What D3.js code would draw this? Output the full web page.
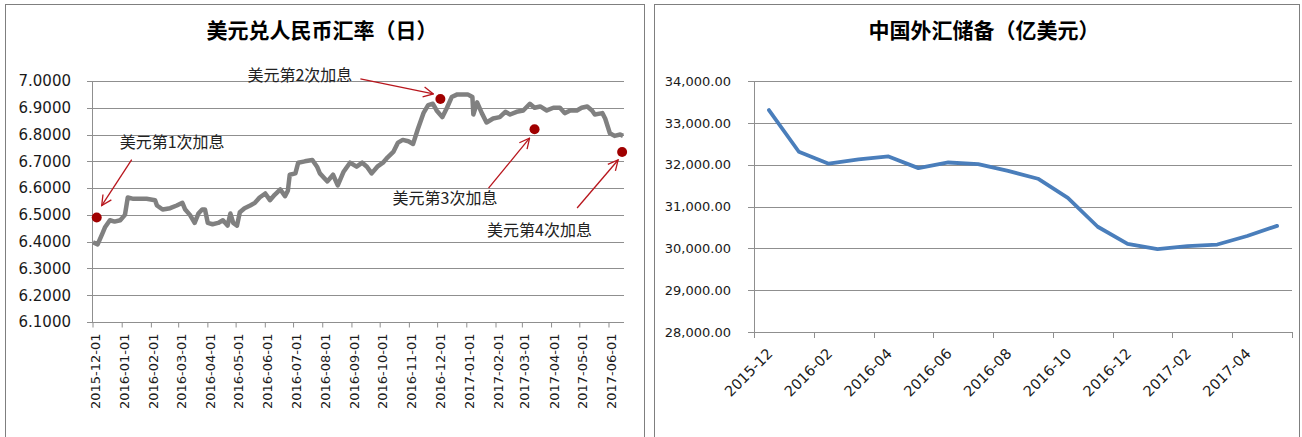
<!DOCTYPE html>
<html>
<head>
<meta charset="utf-8">
<script src="https://cdn.jsdelivr.net/npm/d3@7"></script>
<style>
	body { margin: 0; background: #fff; }
	svg text { font-family: "DejaVu Sans", Verdana, sans-serif; }
</style>
</head>
<body>
<svg id="chart" width="1302" height="437"></svg>
<script>
// 美元兑人民币汇率 (日)
var fxDates = ["2015-12-02","2015-12-07","2015-12-12","2015-12-15","2015-12-20","2015-12-25","2015-12-31",
	"2016-01-05","2016-01-08","2016-01-14","2016-01-28","2016-02-06","2016-02-08","2016-02-14","2016-02-22","2016-02-29",
	"2016-03-06","2016-03-09","2016-03-14","2016-03-19","2016-03-23","2016-03-27","2016-03-30",
	"2016-04-02","2016-04-07","2016-04-13","2016-04-18","2016-04-23","2016-04-26","2016-04-29",
	"2016-05-03","2016-05-06","2016-05-11","2016-05-17","2016-05-22","2016-05-27",
	"2016-06-02","2016-06-07","2016-06-12","2016-06-18","2016-06-23","2016-06-26","2016-06-28",
	"2016-07-04","2016-07-07","2016-07-14","2016-07-22","2016-07-27","2016-07-30",
	"2016-08-07","2016-08-13","2016-08-18","2016-08-24","2016-08-31",
	"2016-09-07","2016-09-13","2016-09-18","2016-09-23","2016-09-29",
	"2016-10-05","2016-10-10","2016-10-16","2016-10-21","2016-10-26",
	"2016-11-01","2016-11-06","2016-11-11","2016-11-17","2016-11-22","2016-11-27",
	"2016-12-01","2016-12-07","2016-12-12","2016-12-17","2016-12-23","2016-12-29",
	"2017-01-03","2017-01-08","2017-01-09","2017-01-13","2017-01-18","2017-01-23","2017-01-30",
	"2017-02-06","2017-02-12","2017-02-17","2017-02-24",
	"2017-03-03","2017-03-10","2017-03-15","2017-03-21","2017-03-28",
	"2017-04-04","2017-04-11","2017-04-16","2017-04-22","2017-04-29",
	"2017-05-04","2017-05-10","2017-05-15","2017-05-18","2017-05-26","2017-05-29",
	"2017-06-03","2017-06-08","2017-06-14","2017-06-17"];
var fxRates = [6.398,6.39,6.43,6.455,6.48,6.475,6.48,
	6.50,6.565,6.56,6.56,6.555,6.535,6.52,6.525,6.535,
	6.545,6.52,6.50,6.47,6.505,6.52,6.52,
	6.47,6.465,6.47,6.48,6.46,6.505,6.47,
	6.46,6.51,6.525,6.535,6.545,6.565,
	6.58,6.555,6.575,6.595,6.57,6.59,6.65,
	6.655,6.695,6.70,6.705,6.68,6.655,
	6.625,6.65,6.61,6.66,6.695,
	6.68,6.695,6.68,6.655,6.68,
	6.695,6.715,6.735,6.77,6.78,
	6.775,6.765,6.82,6.88,6.91,6.915,
	6.89,6.865,6.90,6.94,6.95,6.95,
	6.95,6.94,6.875,6.92,6.88,6.845,6.86,
	6.865,6.885,6.875,6.885,
	6.89,6.915,6.90,6.905,6.89,
	6.90,6.90,6.88,6.89,6.89,
	6.90,6.905,6.89,6.875,6.88,6.86,
	6.805,6.795,6.80,6.795];
var fxTicks = [6.1,6.2,6.3,6.4,6.5,6.6,6.7,6.8,6.9,7.0];

var hikeDates = ["2015-12-06","2016-12-05","2017-03-15","2017-06-16"];
var hikeRates = [6.49,6.933,6.82,6.735];
var hikeLabels = ["美元第1次加息","美元第2次加息","美元第3次加息","美元第4次加息"];

// 中国外汇储备 (亿美元)
var reserveMonths = ["2015-12","2016-01","2016-02","2016-03","2016-04","2016-05","2016-06","2016-07","2016-08",
	"2016-09","2016-10","2016-11","2016-12","2017-01","2017-02","2017-03","2017-04","2017-05"];
var reserveValues = [33304,32309,32023,32126,32197,31917,32052,32011,31852,
	31664,31207,30516,30105,29982,30051,30091,30295,30536];
var reserveTicks = [28000,29000,30000,31000,32000,33000,34000];
var reserveLabelMonths = ["2015-12","2016-02","2016-04","2016-06","2016-08","2016-10","2016-12","2017-02","2017-04"];

var svg = d3.select("#chart");
var parse = d3.timeParse("%Y-%m-%d");
var gridColor = "#8f8f8f";

// panels
svg.append("rect").attr("x", 5.5).attr("y", 4.5).attr("width", 639).attr("height", 460)
	.attr("fill", "#fff").attr("stroke", "#7f7f7f");
svg.append("rect").attr("x", 654.5).attr("y", 4.5).attr("width", 645).attr("height", 460)
	.attr("fill", "#fff").attr("stroke", "#7f7f7f");

//==========================
// LEFT : exchange rate
//==========================
var L = {left: 92, right: 624, top: 81, bottom: 322};

var xL = d3.scaleTime()
	.domain([parse("2015-12-01"), parse("2017-06-18")])
	.range([L.left, L.right]);
var yL = d3.scaleLinear().domain([6.1, 7.0]).range([L.bottom, L.top]);

svg.append("text")
	.attr("x", 322).attr("y", 38)
	.attr("text-anchor", "middle")
	.style("font-family", "'Noto Sans CJK SC', sans-serif")
	.style("font-size", "21px").style("font-weight", "bold")
	.text("美元兑人民币汇率（日）");

var gl = svg.append("g");
gl.selectAll("line.grid").data(fxTicks).enter().append("line")
	.attr("x1", L.left - 5).attr("x2", L.right)
	.attr("y1", function(d){ return Math.round(yL(d)) + 0.5; })
	.attr("y2", function(d){ return Math.round(yL(d)) + 0.5; })
	.attr("stroke", gridColor);
gl.append("line")
	.attr("x1", L.left + 0.5).attr("x2", L.left + 0.5)
	.attr("y1", L.top).attr("y2", L.bottom + 1)
	.attr("stroke", gridColor);

var yAxisL = svg.append("g")
	.attr("transform", "translate(" + L.left + ",0)")
	.call(d3.axisLeft(yL).tickValues(fxTicks).tickSize(0).tickPadding(21).tickFormat(d3.format(".4f")));
yAxisL.select(".domain").remove();
yAxisL.selectAll("text").style("font-size", "15px").attr("fill", "#1a1a1a")
	.style("font-family", "'DejaVu Sans', sans-serif");

var months = d3.timeMonth.range(parse("2015-12-01"), parse("2017-06-02"));
var xAxisL = svg.append("g")
	.attr("transform", "translate(0," + (L.bottom + 0.5) + ")")
	.call(d3.axisBottom(xL).tickValues(months).tickSize(5).tickSizeOuter(0).tickFormat(d3.timeFormat("%Y-%m-%d")));
xAxisL.select(".domain").remove();
xAxisL.selectAll("line").attr("stroke", gridColor)
	.attr("transform", "translate(0.5,0)");
xAxisL.selectAll("text")
	.style("font-size", "13px").attr("fill", "#1a1a1a")
	.attr("transform", "rotate(-90)")
	.attr("text-anchor", "end")
	.attr("x", -11).attr("y", 0).attr("dy", "0.58em");

var lineL = d3.line()
	.x(function(d){ return xL(d.date); })
	.y(function(d){ return yL(d.val); });
var fxData = fxDates.map(function(d, i){ return {date: parse(d), val: fxRates[i]}; });
svg.append("path").datum(fxData)
	.attr("d", lineL)
	.attr("fill", "none").attr("stroke", "#808080")
	.attr("stroke-width", 4.5).attr("stroke-linejoin", "round");

// annotations
var noteLayout = [
	{tx: 23, ty: -75, x1: 35, y1: -58, x2: 5, y2: -12},
	{tx: -193, ty: -24, x1: -80, y1: -20, x2: -7, y2: -5},
	{tx: -142, ty: 69, x1: -46, y1: 59, x2: -5, y2: 9},
	{tx: -135, ty: 78, x1: -45, y1: 56, x2: -4, y2: 8}
];
var red = "#b8161d";
var defs = svg.append("defs");
defs.append("marker")
	.attr("id", "arrow").attr("viewBox", "0 0 12 12")
	.attr("refX", 11).attr("refY", 6)
	.attr("markerWidth", 12).attr("markerHeight", 12).attr("markerUnits", "userSpaceOnUse")
	.attr("orient", "auto")
	.append("path").attr("d", "M1,1 L11,6 L1,11")
	.attr("fill", "none").attr("stroke", red).attr("stroke-width", 1.3);

hikeDates.forEach(function(d, i){
	var cx = xL(parse(d)), cy = yL(hikeRates[i]), o = noteLayout[i];
	svg.append("line")
		.attr("x1", cx + o.x1).attr("y1", cy + o.y1)
		.attr("x2", cx + o.x2).attr("y2", cy + o.y2)
		.attr("stroke", red).attr("stroke-width", 1.3)
		.attr("marker-end", "url(#arrow)");
	svg.append("circle").attr("cx", cx).attr("cy", cy).attr("r", 5).attr("fill", "#a00000");
	svg.append("text")
		.attr("x", cx + o.tx).attr("y", cy + o.ty).attr("dy", "0.35em")
		.style("font-family", "'Noto Sans CJK SC', sans-serif")
		.style("font-size", "16px").attr("fill", "#222")
		.text(hikeLabels[i]);
});

//==========================
// RIGHT : reserves
//==========================
var R = {left: 754, right: 1292, top: 81, bottom: 332};

var xR = d3.scaleBand().domain(reserveMonths).range([R.left, R.right]).padding(0);
var yR = d3.scaleLinear().domain([28000, 34000]).range([R.bottom, R.top]);

svg.append("text")
	.attr("x", 984).attr("y", 38)
	.attr("text-anchor", "middle")
	.style("font-family", "'Noto Sans CJK SC', sans-serif")
	.style("font-size", "21px").style("font-weight", "bold")
	.text("中国外汇储备（亿美元）");

var gr = svg.append("g");
gr.selectAll("line.grid").data(reserveTicks).enter().append("line")
	.attr("x1", R.left - 6).attr("x2", R.right)
	.attr("y1", function(d){ return Math.round(yR(d)) + 0.5; })
	.attr("y2", function(d){ return Math.round(yR(d)) + 0.5; })
	.attr("stroke", gridColor);
gr.append("line")
	.attr("x1", R.left + 0.5).attr("x2", R.left + 0.5)
	.attr("y1", R.top).attr("y2", R.bottom + 1)
	.attr("stroke", gridColor);

var yAxisR = svg.append("g")
	.attr("transform", "translate(" + R.left + ",0)")
	.call(d3.axisLeft(yR).tickValues(reserveTicks).tickSize(0).tickPadding(23).tickFormat(d3.format(",.2f")));
yAxisR.select(".domain").remove();
yAxisR.selectAll("text").style("font-size", "13px").attr("fill", "#1a1a1a");

// tick marks at band edges, every 2 months
var tickEdges = reserveLabelMonths.map(function(m){ return xR(m); }).concat([R.right]);
gr.selectAll("line.tick").data(tickEdges).enter().append("line")
	.attr("x1", function(d){ return Math.round(d) + 0.5; })
	.attr("x2", function(d){ return Math.round(d) + 0.5; })
	.attr("y1", R.bottom).attr("y2", R.bottom + 6)
	.attr("stroke", gridColor);

svg.append("g").selectAll("text").data(reserveLabelMonths).enter().append("text")
	.attr("transform", function(m){
		return "translate(" + (xR(m) + xR.bandwidth() / 2 + 1) + "," + (R.bottom + 19) + ") rotate(-45)";
	})
	.attr("text-anchor", "end").attr("dy", "0.35em")
	.style("font-size", "14.5px").attr("fill", "#1a1a1a")
	.text(function(m){ return m; });

var lineR = d3.line()
	.x(function(d, i){ return xR(reserveMonths[i]) + xR.bandwidth() / 2; })
	.y(function(d){ return yR(d); });
svg.append("path").datum(reserveValues)
	.attr("d", lineR)
	.attr("fill", "none").attr("stroke", "#4a7ebb")
	.attr("stroke-width", 3.8).attr("stroke-linejoin", "round").attr("stroke-linecap", "round");
</script>
</body>
</html>
